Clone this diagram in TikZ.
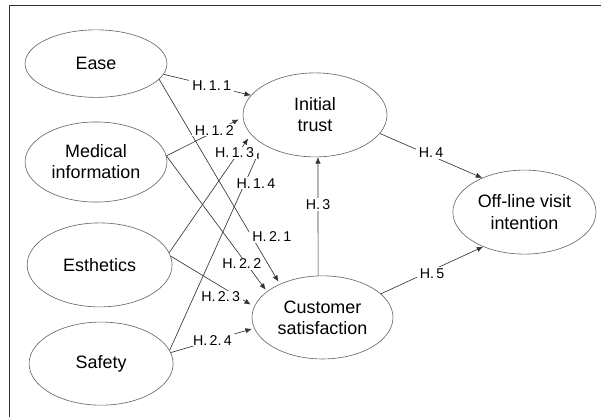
\documentclass[tikz,border=0pt]{standalone}
\usepackage{fontspec}
\setmainfont{Liberation Sans}
\usetikzlibrary{shapes.geometric, arrows.meta}

\begin{document}
\begin{tikzpicture}[
    >={Latex[length=6pt, width=5pt]},
    line width=0.6pt,
    factor/.style={ellipse, draw=black!60, minimum width=4.8cm, minimum height=2.8cm,
                   inner sep=0pt, align=center, font=\fontsize{17}{20}\selectfont},
    hyp/.style={->, draw=black!80},
    hlabel/.style={fill=white, inner xsep=3pt, inner ysep=1pt, font=\fontsize{13.5}{15}\selectfont}
]

\useasboundingbox (0,0) rectangle (20.033,13.9);

% ==========================================
% 1. Frame (top and left edge only)
% ==========================================
\draw[black!80, line width=0.9pt] (0.3,0) -- (0.3,13.733) -- (20.033,13.733);

% ==========================================
% 2. Constructs
% ==========================================
\node[factor, minimum width=4.73cm, minimum height=2.25cm] (ease) at (3.2, 11.78) {Ease};
\node[factor, minimum width=4.73cm, minimum height=2.67cm] (med) at (3.2, 8.5) {Medical\\information};
\node[factor, minimum width=4.83cm] (esth) at (3.32, 5.07) {Esthetics};
\node[factor, minimum height=2.77cm] (safety) at (3.37, 1.78) {Safety};

\node[factor] (trust) at (10.5, 10.07) {Initial\\trust};
\node[factor, minimum width=4.7cm, minimum height=2.77cm] (cs) at (10.75, 3.32) {Customer\\satisfaction};
\node[factor, minimum width=4.77cm] (off) at (17.48, 6.83) {Off-line visit\\intention};

% ==========================================
% 3. Hypothesis paths
% ==========================================
% H.1.x : antecedents -> initial trust
\draw[hyp] (ease.-9) -- coordinate[pos=.55] (h11) (trust.163);
\draw[hyp, shorten >=0.15cm] (med.5) -- coordinate[pos=.6] (h12) (trust.182);
\draw[hyp, shorten >=0.16cm] (esth.10) -- coordinate[pos=.8] (h13) (trust.197);
\draw[hyp, shorten >=0.3cm] (safety.11) -- coordinate[pos=.8] (h14) (trust.209);

% H.2.x : antecedents -> customer satisfaction
\draw[hyp, shorten >=0.09cm] (ease.-14) -- coordinate[pos=.77] (h21) (cs.142);
\draw[hyp, shorten >=0.07cm] (med.5) -- coordinate[pos=.75] (h22) (cs.155);
\draw[hyp, shorten >=0.13cm] (esth.7) -- coordinate[pos=.6] (h23) (cs.171);
\draw[hyp, shorten >=0.08cm] (safety.9) -- coordinate[pos=.5] (h24) (cs.189);

% H.3 - H.5
\draw[hyp] (cs.96) -- coordinate[pos=.6] (h3) (trust.274);
\draw[hyp] (trust.-16) -- coordinate[pos=.5] (h4) (off.141);
\draw[hyp] (cs.22) -- coordinate[pos=.5] (h5) (off.220);

% ==========================================
% 4. Path labels (on top of all lines)
% ==========================================
\node[hlabel] at (h11) {H.\,1.\,1};
\node[hlabel, xshift=0.07cm, yshift=0.08cm] at (h12) {H.\,1.\,2};
\node[hlabel, yshift=0.17cm] at (h13) {H.\,1.\,3};
\node[hlabel, xshift=0.4cm, yshift=0.07cm] at (h14) {H.\,1.\,4};
\node[hlabel, xshift=0.66cm] at (h21) {H.\,2.\,1};
\node[hlabel, yshift=-0.2cm] at (h22) {H.\,2.\,2};
\node[hlabel, yshift=-0.35cm] at (h23) {H.\,2.\,3};
\node[hlabel] at (h24) {H.\,2.\,4};
\node[hlabel] at (h3) {H.\,3};
\node[hlabel, yshift=0.1cm] at (h4) {H.\,4};
\node[hlabel, yshift=-0.1cm] at (h5) {H.\,5};

\end{tikzpicture}
\end{document}
